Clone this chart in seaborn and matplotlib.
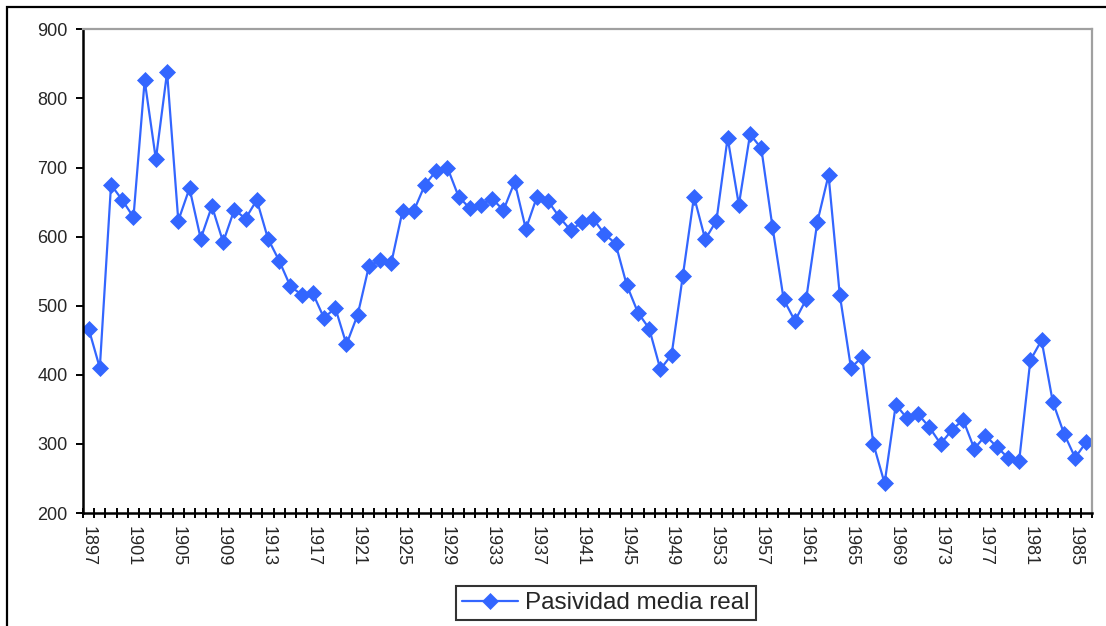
import matplotlib
matplotlib.use("Agg")
import matplotlib.pyplot as plt
from matplotlib.patches import Rectangle
from matplotlib.ticker import FixedLocator, NullFormatter
import seaborn as sns
import pandas as pd

# Annual series, 1897-1986
years = list(range(1897, 1987))
pasividad = [
    467, 410, 675, 653, 628, 826, 712, 838, 623, 670,   # 1897-1906
    597, 644, 592, 639, 626, 653, 597, 565, 528, 516,   # 1907-1916
    518, 482, 497, 444, 487, 557, 566, 562, 637, 637,   # 1917-1926
    675, 695, 700, 658, 641, 646, 655, 638, 679, 611,   # 1927-1936
    658, 651, 628, 609, 621, 626, 604, 590, 530, 490,   # 1937-1946
    467, 408, 429, 543, 658, 596, 623, 743, 646, 748,   # 1947-1956
    728, 614, 509, 478, 509, 621, 689, 516, 410, 426,   # 1957-1966
    300, 243, 357, 337, 343, 324, 300, 320, 335, 293,   # 1967-1976
    312, 296, 280, 275, 421, 450, 361, 315, 280, 303,   # 1977-1986
]
series_name = "Pasividad media real"
label_years = list(range(1897, 1987, 4))
y_ticks = list(range(200, 1000, 100))

df = pd.DataFrame({"year": years, "value": pasividad})

sns.set_style("white")
plt.rcParams["font.family"] = ["Liberation Sans", "DejaVu Sans"]

fig = plt.figure(figsize=(11.06, 6.26), dpi=100)
ax = fig.add_axes([83 / 1106, 1 - 513 / 626, (1092 - 83) / 1106, (513 - 29.3) / 626])

blue = "#3366FF"
sns.lineplot(data=df, x="year", y="value", ax=ax, color=blue, linewidth=1.6,
             marker="D", markersize=8, markeredgecolor=blue, markeredgewidth=0.5,
             label=series_name)

ax.set_xlim(years[0] - 0.5, years[-1] + 0.5)
ax.set_ylim(200, 900)
ax.set_xlabel("")
ax.set_ylabel("")

# y axis
ax.set_yticks(y_ticks)
ax.set_yticklabels([str(v) for v in y_ticks], fontsize=13)
ax.tick_params(axis="y", which="major", left=True, direction="out", length=5,
               width=1.4, color="black", pad=6)

# x axis: category boundaries as tick marks, labels every four years
ax.xaxis.set_major_locator(FixedLocator(label_years))
ax.set_xticklabels([str(y) for y in label_years], rotation=-90, fontsize=13)
ax.xaxis.set_minor_locator(FixedLocator([y - 0.5 for y in years] + [years[-1] + 0.5]))
ax.xaxis.set_minor_formatter(NullFormatter())
ax.tick_params(axis="x", which="major", bottom=True, length=0, pad=9)
ax.tick_params(axis="x", which="minor", bottom=True, direction="inout", length=7,
               width=1.4, color="black")

for side in ("left", "bottom"):
    ax.spines[side].set_color("black")
    ax.spines[side].set_linewidth(1.8)
for side in ("top", "right"):
    ax.spines[side].set_color("#A0A0A0")
    ax.spines[side].set_linewidth(1.6)
ax.grid(False)

leg = ax.legend(loc="center", bbox_to_anchor=(606 / 1106, 1 - 603 / 626),
                bbox_transform=fig.transFigure, frameon=True, fancybox=False,
                shadow=False, fontsize=17.5, handlelength=2.3, handletextpad=0.3,
                borderpad=0.25, borderaxespad=0)
leg.get_frame().set_edgecolor("black")
leg.get_frame().set_linewidth(1.5)
leg.get_frame().set_facecolor("white")

# outer chart frame
fig.patches.append(Rectangle((7 / 1106, -0.2), 1.5, 0.2 + (1 - 7 / 626),
                             transform=fig.transFigure, fill=False,
                             edgecolor="black", linewidth=1.6, zorder=0))

fig.savefig("out.png", dpi=100, facecolor="white")
